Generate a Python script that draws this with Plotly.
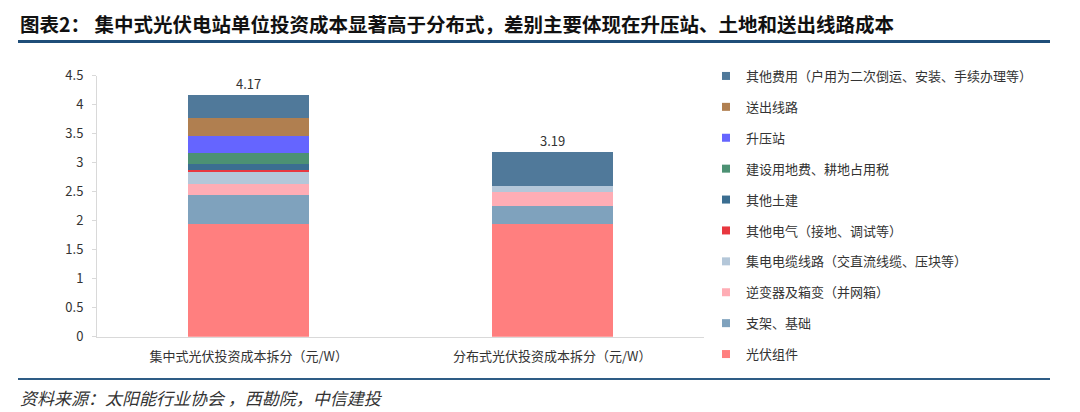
import plotly.graph_objects as go

categories = ["集中式光伏投资成本拆分（元/W）", "分布式光伏投资成本拆分（元/W）"]

# bottom -> top order
series_names = [
    "光伏组件",
    "支架、基础",
    "逆变器及箱变（并网箱）",
    "集电电缆线路（交直流线缆、压块等）",
    "其他电气（接地、调试等）",
    "其他土建",
    "建设用地费、耕地占用税",
    "升压站",
    "送出线路",
    "其他费用（户用为二次倒运、安装、手续办理等）",
]
values_centralized = [1.95, 0.49, 0.20, 0.20, 0.04, 0.10, 0.18, 0.30, 0.31, 0.40]
values_distributed = [1.95, 0.30, 0.25, 0.10, 0.00, 0.00, 0.00, 0.00, 0.00, 0.59]

colors = [
    "#FF7F7F", "#7FA2BD", "#FFADB5", "#B4C7D9", "#E8373F",
    "#3B6E91", "#4C9173", "#6565FF", "#B07F50", "#50799A",
]

y_ticks = [0, 0.5, 1, 1.5, 2, 2.5, 3, 3.5, 4, 4.5]
y_tick_labels = ["0", "0.5", "1", "1.5", "2", "2.5", "3", "3.5", "4", "4.5"]

title_text = "图表2： 集中式光伏电站单位投资成本显著高于分布式，差别主要体现在升压站、土地和送出线路成本"
source_text = "资料来源：太阳能行业协会 ，西勘院，中信建投"

FONT = "Noto Sans CJK SC"
W, H = 1080, 412
OFF = 8  # default page body margin


def px_x(p):
    return (p - OFF) / W


def px_y(p):
    return (H - (p - OFF)) / H


fig = go.Figure()

for i, name in enumerate(series_names):
    fig.add_trace(go.Bar(
        x=categories,
        y=[values_centralized[i], values_distributed[i]],
        name=name,
        marker=dict(color=colors[i], line=dict(width=0)),
        showlegend=False,
        hoverinfo="name+y",
    ))

# legend entries (small square markers), top item first
for i in reversed(range(len(series_names))):
    fig.add_trace(go.Scatter(
        x=[None], y=[None], mode="markers",
        marker=dict(symbol="square", size=8, color=colors[i]),
        name=series_names[i],
        legendgroup=f"g{i}",
        showlegend=True,
    ))

totals = [sum(values_centralized), sum(values_distributed)]
total_annotations = [
    dict(x=c, y=t, xref="x", yref="y", text=f"{t:.2f}",
         showarrow=False, yanchor="middle", yshift=11,
         font=dict(family=FONT, size=13, color="#333333"))
    for c, t in zip(categories, totals)
]

fig.update_layout(
    width=W, height=H,
    margin=dict(l=0, r=0, t=0, b=0, autoexpand=False),
    paper_bgcolor="white", plot_bgcolor="white",
    barmode="stack",
    bargap=0.6,
    font=dict(family=FONT, size=13, color="#333333"),
    xaxis=dict(
        domain=[px_x(97), px_x(704)],
        showline=True, linecolor="#D9D9D9", linewidth=1,
        ticks="", showgrid=False, zeroline=False,
        tickfont=dict(family=FONT, size=13, color="#333333"),
        ticklabelstandoff=8,
        automargin=False,
    ),
    yaxis=dict(
        domain=[px_y(336.7), px_y(75.7)],
        range=[0, 4.5],
        tickvals=y_ticks, ticktext=y_tick_labels,
        showline=True, linecolor="#D9D9D9", linewidth=1,
        ticks="outside", ticklen=4, tickcolor="#D9D9D9",
        showgrid=False, zeroline=False,
        tickfont=dict(family=FONT, size=13, color="#333333"),
        ticklabelstandoff=6,
        automargin=False,
    ),
    legend=dict(
        x=px_x(706), xanchor="left",
        y=px_y(61), yanchor="top",
        traceorder="grouped",
        tracegroupgap=11,
        font=dict(family=FONT, size=13, color="#333333"),
        bgcolor="rgba(0,0,0,0)",
        itemclick=False, itemdoubleclick=False,
    ),
    shapes=[
        dict(type="line", xref="paper", yref="paper",
             x0=px_x(18), x1=px_x(1050), y0=px_y(41.5), y1=px_y(41.5),
             line=dict(color="#1F4E79", width=3)),
        dict(type="line", xref="paper", yref="paper",
             x0=px_x(18), x1=px_x(1050), y0=px_y(379), y1=px_y(379),
             line=dict(color="#2E5C85", width=2)),
    ],
    annotations=[
        dict(text=f"<b>{title_text}</b>", xref="paper", yref="paper",
             x=px_x(18), y=px_y(24), xanchor="left", yanchor="middle",
             showarrow=False,
             font=dict(family=FONT, size=19.5, color="#111111")),
        dict(text=source_text, xref="paper", yref="paper",
             x=px_x(18), y=px_y(397), xanchor="left", yanchor="middle",
             showarrow=False,
             font=dict(family=FONT, size=17, color="#333333", style="italic")),
    ] + total_annotations,
)

fig.write_html("out.html")
